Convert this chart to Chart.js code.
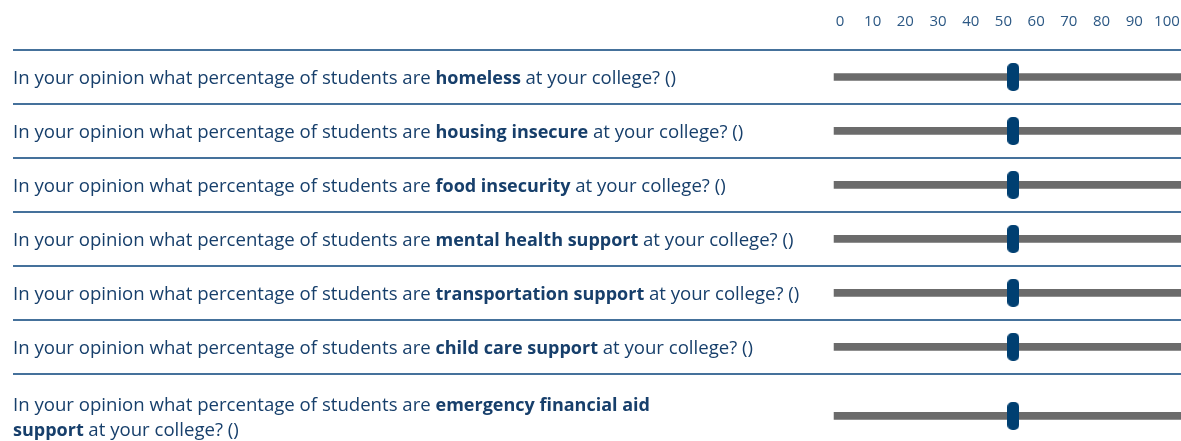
<!DOCTYPE html>
<html>
<head>
<meta charset="utf-8">
<script src="https://cdn.jsdelivr.net/npm/chart.js@4.4.1/dist/chart.umd.min.js"></script>
<style>
  html, body { margin: 0; padding: 0; background: #fff; }
  #wrap { width: 1181px; height: 441px; overflow: hidden; }
</style>
</head>
<body>
<div id="wrap"><canvas id="myChart" width="1181" height="458"></canvas></div>
<script>
// survey questions: only the bold topic changes, "\n" marks a line break
const questionStart = 'In your opinion what percentage of students are';
const questionEnd = 'at your college? ()';
const topics = [
  'homeless',
  'housing insecure',
  'food insecurity',
  'mental health support',
  'transportation support',
  'child care support',
  'emergency financial aid\nsupport'
];
// slider answers (all thumbs sit a bit past 50)
const answers = [53, 53, 53, 53, 53, 53, 53];
const tickValues = [0, 10, 20, 30, 40, 50, 60, 70, 80, 90, 100];

const FONT = 'Open Sans';
const textColor = '#173f6b';
const normalFont = `18.6px ${FONT}`;
const boldFont = `bold 18px ${FONT}`;
const lineHeight = 25;

// split a question into lines of words (bold flag per word)
const splitQuestion = (topic) => {
  const words = [
    ...questionStart.split(' ').map(w => ({ w, bold: false })),
    ...topic.replace('\n', ' \n ').split(' ').map(w => ({ w, bold: true })),
    ...questionEnd.split(' ').map(w => ({ w, bold: false }))
  ];
  const lines = [[]];
  words.forEach(word => {
    if (word.w === '\n') lines.push([]);
    else if (word.w) lines[lines.length - 1].push(word);
  });
  return lines;
};
const wrapped = topics.map(splitQuestion);

// each row is one unit tall, an extra text line adds a bit more
const spans = wrapped.map(lines => 1 + (lines.length - 1) * 0.56);
const rowStarts = [];
let acc = 0;
spans.forEach(s => { rowStarts.push(acc); acc += s; });
const totalRows = acc;
const centers = rowStarts.map((s, i) => s + spans[i] / 2);
const boundaries = [...rowStarts, totalRows];

// the slider handle
const thumb = document.createElement('canvas');
thumb.width = 12;
thumb.height = 28;
{
  const c = thumb.getContext('2d');
  c.fillStyle = '#003f71';
  c.beginPath();
  c.roundRect(0, 0, 12, 28, 5);
  c.fill();
}

const questionLabels = {
  id: 'questionLabels',
  afterDraw(chart) {
    const { ctx, scales: { y } } = chart;
    ctx.save();
    ctx.fillStyle = textColor;
    ctx.textBaseline = 'middle';
    wrapped.forEach((lines, i) => {
      const cy = y.getPixelForValue(centers[i]) + 2;
      lines.forEach((line, j) => {
        let x = 13;
        const ly = cy + (j - (lines.length - 1) / 2) * lineHeight;
        line.forEach((word, k) => {
          ctx.font = word.bold ? boldFont : normalFont;
          const t = k < line.length - 1 ? word.w + ' ' : word.w;
          ctx.fillText(t, x, ly);
          x += ctx.measureText(t).width;
        });
      });
    });
    ctx.restore();
  }
};

new Chart(document.getElementById('myChart'), {
  type: 'scatter',
  data: {
    datasets: [
      {
        type: 'scatter',
        data: centers.map((c, i) => ({ x: answers[i], y: c })),
        pointStyle: thumb,
        showLine: false
      },
      {
        type: 'bar',
        indexAxis: 'y',
        data: centers.map(c => ({ y: c, x: [-1.8, 110] })),
        backgroundColor: '#6b6b6b',
        barThickness: 7,
        borderSkipped: false
      }
    ]
  },
  options: {
    responsive: false,
    animation: false,
    events: [],
    layout: { autoPadding: false, padding: { left: 13, top: 0, right: 0, bottom: 0 } },
    plugins: { legend: { display: false }, tooltip: { enabled: false } },
    scales: {
      x: {
        type: 'linear',
        position: 'top',
        offset: false,
        min: -252.9,
        max: 104.3,
        afterBuildTicks: axis => { axis.ticks = tickValues.map(v => ({ value: v })); },
        afterFit: axis => { axis.height = 50; axis.paddingLeft = 0; axis.paddingRight = 0; },
        ticks: { color: '#2c5884', font: { family: FONT, size: 15 }, padding: 19, autoSkip: false, maxRotation: 0 },
        grid: { display: false, drawTicks: false, offset: false },
        border: { display: false }
      },
      y: {
        type: 'linear',
        reverse: true,
        offset: false,
        min: 0,
        max: totalRows,
        afterFit: axis => { axis.width = 0; },
        afterBuildTicks: axis => { axis.ticks = boundaries.map(v => ({ value: v })); },
        ticks: { display: false },
        grid: { color: '#45719b', lineWidth: 2, drawTicks: false, offset: false },
        border: { display: false }
      }
    }
  },
  plugins: [questionLabels]
});
</script>
</body>
</html>
